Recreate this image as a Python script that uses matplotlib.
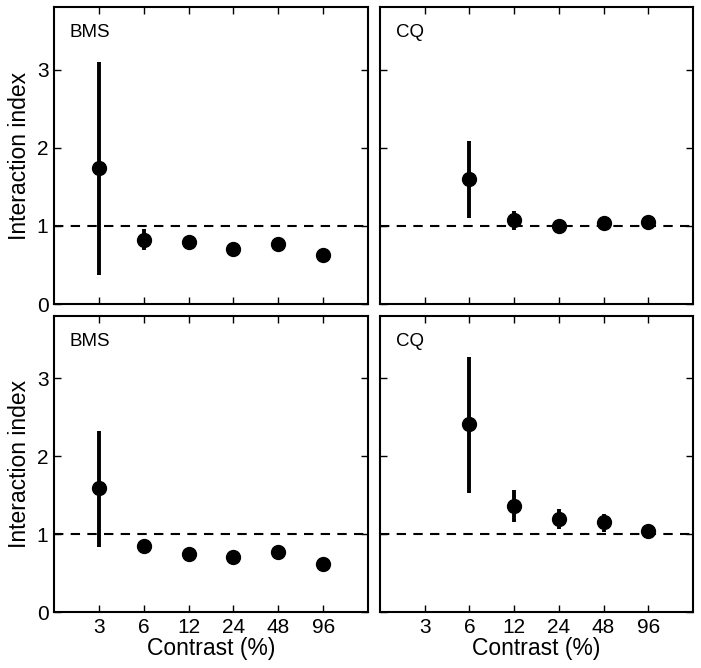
import numpy as np
import matplotlib
matplotlib.use("Agg")
import matplotlib.pyplot as plt

plt.rcParams['font.family'] = ['Liberation Sans', 'DejaVu Sans']

contrast_labels = ['3', '6', '12', '24', '48', '96']

# top row
bms_top = [1.74, 0.82, 0.79, 0.71, 0.77, 0.63]
bms_top_lo = [0.37, 0.69, 0.72, 0.67, 0.73, 0.60]
bms_top_hi = [3.10, 0.96, 0.85, 0.75, 0.81, 0.66]

cq_top_x = ['6', '12', '24', '48', '96']
cq_top = [1.60, 1.08, 1.00, 1.04, 1.05]
cq_top_lo = [1.10, 0.95, 0.93, 0.98, 0.99]
cq_top_hi = [2.09, 1.19, 1.07, 1.10, 1.11]

# bottom row
bms_bot = [1.59, 0.85, 0.75, 0.71, 0.77, 0.61]
bms_bot_lo = [0.84, 0.81, 0.72, 0.68, 0.74, 0.58]
bms_bot_hi = [2.33, 0.89, 0.78, 0.74, 0.80, 0.64]

cq_bot_x = ['6', '12', '24', '48', '96']
cq_bot = [2.41, 1.36, 1.19, 1.15, 1.04]
cq_bot_lo = [1.53, 1.16, 1.06, 1.03, 0.96]
cq_bot_hi = [3.27, 1.56, 1.32, 1.26, 1.12]

W, H = 701, 668
fig = plt.figure(figsize=(W / 100, H / 100), dpi=100)

boxes = {
    (0, 0): (54, 7, 368, 304),
    (0, 1): (380, 7, 693, 304),
    (1, 0): (54, 316, 368, 612),
    (1, 1): (380, 316, 693, 612),
}

panels = {
    (0, 0): ('BMS', contrast_labels, bms_top, bms_top_lo, bms_top_hi),
    (0, 1): ('CQ', cq_top_x, cq_top, cq_top_lo, cq_top_hi),
    (1, 0): ('BMS', contrast_labels, bms_bot, bms_bot_lo, bms_bot_hi),
    (1, 1): ('CQ', cq_bot_x, cq_bot, cq_bot_lo, cq_bot_hi),
}

for key, (x0, y0, x1, y1) in boxes.items():
    r, c = key
    ax = fig.add_axes([x0 / W, 1 - y1 / H, (x1 - x0) / W, (y1 - y0) / H])
    name, xs, vals, lo, hi = panels[key]
    pos = np.array([contrast_labels.index(x) for x in xs])
    vals = np.array(vals)
    yerr = [vals - np.array(lo), np.array(hi) - vals]

    ax.axhline(1, color='black', lw=1.5, dashes=(4.5, 3.5), zorder=1)
    ax.errorbar(pos, vals, yerr=yerr, fmt='o', color='black', ms=10,
                elinewidth=2.8, capsize=0, zorder=3)

    ax.set_xlim(-1, 6)
    ax.set_ylim(0, 3.8)
    ax.set_xticks(range(6))
    ax.set_yticks([0, 1, 2, 3])
    ax.tick_params(direction='in', length=5, width=1, top=True, right=True,
                   labelsize=15, pad=4)
    for s in ax.spines.values():
        s.set_linewidth(1.5)

    if r == 1:
        ax.set_xticklabels(contrast_labels)
        ax.set_xlabel('Contrast (%)', fontsize=16.5, labelpad=0)
    else:
        ax.set_xticklabels([])
    if c == 0:
        ax.set_ylabel('Interaction index', fontsize=16.5, labelpad=4)
    else:
        ax.set_yticklabels([])

    ax.text(0.05, 0.915, name, transform=ax.transAxes, fontsize=13.5,
            va='center', ha='left')

fig.savefig('out.png', dpi=100)
